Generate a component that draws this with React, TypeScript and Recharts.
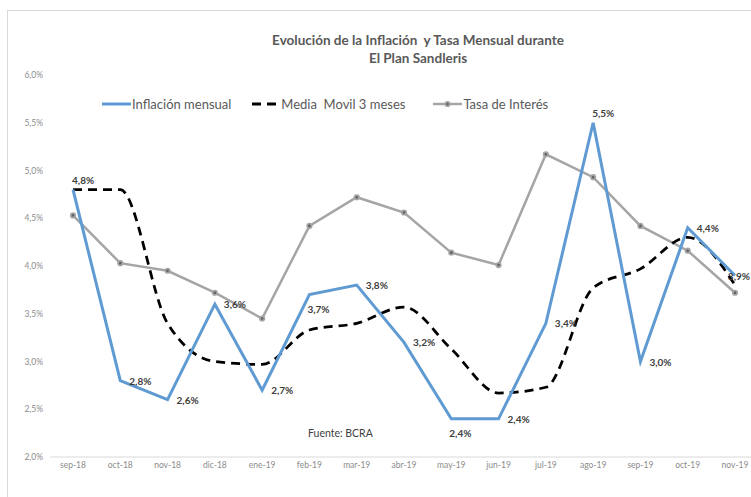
import React from "react";
import { LabelList, Line, LineChart, XAxis, YAxis } from "recharts";

const months = [
  "sep-18", "oct-18", "nov-18", "dic-18", "ene-19", "feb-19", "mar-19", "abr-19",
  "may-19", "jun-19", "jul-19", "ago-19", "sep-19", "oct-19", "nov-19",
];
const inflacionMensual = [4.8, 2.8, 2.6, 3.6, 2.7, 3.7, 3.8, 3.2, 2.4, 2.4, 3.4, 5.5, 3.0, 4.4, 3.9];
const mediaMovil = [4.8, 4.8, 3.4, 3.0, 2.97, 3.33, 3.4, 3.57, 3.13, 2.67, 2.73, 3.77, 3.97, 4.3, 3.8];
const tasaInteres = [4.53, 4.03, 3.95, 3.72, 3.45, 4.42, 4.72, 4.56, 4.14, 4.01, 5.17, 4.93, 4.42, 4.16, 3.72];
const yTicks = [2.0, 2.5, 3.0, 3.5, 4.0, 4.5, 5.0, 5.5, 6.0];

// where each inflation label sits relative to its point
const labelSide = [
  "above", "right", "right", "right", "right", "below", "right", "right",
  "below", "right", "right", "above", "right", "right", "edge",
];

const data = months.map((mes, i) => ({
  mes,
  inflacion: inflacionMensual[i],
  media: mediaMovil[i],
  tasa: tasaInteres[i],
}));

const FONT = "Lato, 'Noto Sans', sans-serif";
const BLUE = "#5F9BD2";
const GRAY = "#A5A5A5";

const pct = (v: number) => `${v.toFixed(1).replace(".", ",")}%`;

function InflacionLabel(props: any) {
  const { x, y, value, index } = props;
  const side = labelSide[index] ?? "right";
  let px = Number(x) + 9;
  let py = Number(y);
  let anchor = "start";
  if (side === "above") {
    px = Number(x) - 1;
    py = Number(y) - 10;
  } else if (side === "below") {
    px = Number(x) - 2;
    py = Number(y) + 14;
  } else if (side === "edge") {
    // keep the last label inside the picture
    px = 750;
    anchor = "end";
  }
  return (
    <text
      x={px}
      y={py}
      textAnchor={anchor}
      dominantBaseline="central"
      fontFamily={FONT}
      fontSize={10}
      fontWeight={700}
      fill="#404040"
    >
      {pct(Number(value))}
    </text>
  );
}

function LegendItem({ sample, label, gap }: { sample: React.ReactNode; label: string; gap: number }) {
  return (
    <div style={{ display: "flex", alignItems: "center", marginLeft: gap }}>
      <svg width={29} height={12} style={{ marginRight: 1 }}>
        {sample}
      </svg>
      <span style={{ whiteSpace: "pre" }}>{label}</span>
    </div>
  );
}

export default function App() {
  return (
    <div
      style={{
        position: "absolute",
        left: 0,
        top: 0,
        width: 751,
        height: 497,
        overflow: "hidden",
        background: "#fff",
        fontFamily: FONT,
      }}
    >
      <div
        style={{
          position: "absolute",
          left: 7,
          top: 10,
          width: 900,
          height: 700,
          borderLeft: "1px solid #d9d9d9",
          borderTop: "1px solid #d9d9d9",
        }}
      />

      <div
        style={{
          position: "absolute",
          left: 218,
          top: 31,
          width: 400,
          textAlign: "center",
          fontSize: 13.5,
          fontWeight: 700,
          lineHeight: "18px",
          color: "#595959",
          whiteSpace: "pre",
        }}
      >
        {"Evolución de la Inflación  y Tasa Mensual durante\nEl Plan Sandleris"}
      </div>

      <div style={{ position: "absolute", left: 0, top: 0 }}>
        <LineChart width={780} height={497} data={data} margin={{ top: 75, right: 21, bottom: 10, left: 0 }}>
          <XAxis
            dataKey="mes"
            height={30}
            padding={{ left: 23, right: 24 }}
            axisLine={{ stroke: "#d9d9d9", strokeWidth: 1 }}
            tickLine={false}
            tickSize={3}
            tickMargin={2}
            interval={0}
            tick={{ fill: "#8c8c8c", fontSize: 8.5, fontFamily: FONT }}
          />
          <YAxis
            width={50}
            domain={[2, 6]}
            ticks={yTicks}
            axisLine={false}
            tickLine={false}
            tickSize={5}
            tickMargin={2}
            tickFormatter={(v: number) => pct(v)}
            tick={{ fill: "#8c8c8c", fontSize: 8.5, fontFamily: FONT }}
          />
          <Line
            dataKey="tasa"
            type="linear"
            stroke={GRAY}
            strokeWidth={2.5}
            dot={{ r: 2.2, fill: "#5f5f5f", stroke: GRAY, strokeWidth: 1.8 }}
            isAnimationActive={false}
          />
          <Line
            dataKey="media"
            type="monotone"
            stroke="#000"
            strokeWidth={2.75}
            strokeDasharray="9 6"
            dot={false}
            isAnimationActive={false}
          />
          <Line
            dataKey="inflacion"
            type="linear"
            stroke={BLUE}
            strokeWidth={3}
            dot={false}
            isAnimationActive={false}
          >
            <LabelList dataKey="inflacion" content={InflacionLabel} />
          </Line>
        </LineChart>
      </div>

      <div
        style={{
          position: "absolute",
          left: 102,
          top: 95,
          display: "flex",
          alignItems: "center",
          fontSize: 13,
          color: "#595959",
          lineHeight: "18px",
        }}
      >
        <LegendItem
          gap={0}
          label="Inflación mensual"
          sample={<line x1={0} y1={6} x2={29} y2={6} stroke={BLUE} strokeWidth={3} />}
        />
        <LegendItem
          gap={20}
          label="Media  Movil 3 meses"
          sample={<line x1={1} y1={6} x2={29} y2={6} stroke="#000" strokeWidth={3} strokeDasharray="9 6" />}
        />
        <LegendItem
          gap={28}
          label="Tasa de Interés"
          sample={
            <g>
              <line x1={0} y1={6} x2={29} y2={6} stroke={GRAY} strokeWidth={2.5} />
              <circle cx={14.5} cy={6} r={2.2} fill="#5f5f5f" stroke={GRAY} strokeWidth={1.8} />
            </g>
          }
        />
      </div>

      <div
        style={{
          position: "absolute",
          left: 308,
          top: 425,
          fontSize: 10.5,
          color: "#404040",
          lineHeight: "16px",
        }}
      >
        Fuente: BCRA
      </div>
    </div>
  );
}
